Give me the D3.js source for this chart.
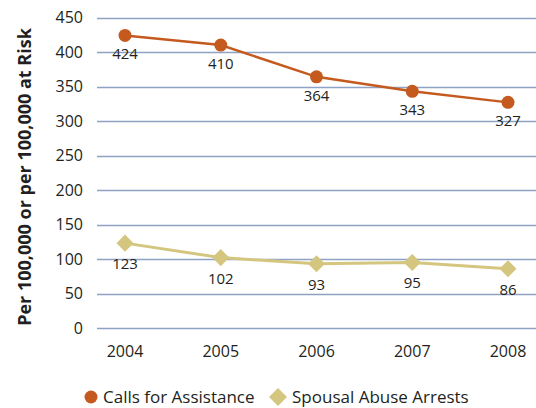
<!DOCTYPE html>
<html>
<head>
<meta charset="utf-8">
<script src="https://cdn.jsdelivr.net/npm/d3@7"></script>
<style>
  body { margin: 0; background: #fff; }
  svg text { font-family: "Open Sans", "Noto Sans", sans-serif; fill: #231f20; }
</style>
</head>
<body>
<div id="chart"></div>
<script>
const width = 536,
  height = 408;

// data
const years = ["2004", "2005", "2006", "2007", "2008"];
const calls = [424, 410, 364, 343, 327];
const arrests = [123, 102, 93, 95, 86];
const yTicks = [0, 50, 100, 150, 200, 250, 300, 350, 400, 450];
const seriesNames = ["Calls for Assistance", "Spousal Abuse Arrests"];

const orange = "#c55a1e",
  tan = "#d4c67e";

const svg = d3
  .select("#chart")
  .append("svg")
  .attr("width", width)
  .attr("height", height);

const x = d3.scalePoint().domain(years).range([125, 508]);
const y = d3.scaleLinear().domain([0, 450]).range([328, 17.5]);

// gridlines
svg
  .selectAll("grid")
  .data(yTicks)
  .join("line")
  .attr("x1", 97)
  .attr("x2", width)
  .attr("y1", (d) => Math.round(y(d)) + 0.5)
  .attr("y2", (d) => Math.round(y(d)) + 0.5)
  .attr("stroke", "#8ea2c4")
  .attr("stroke-width", 1.5);

// y tick labels
svg
  .selectAll("ytick")
  .data(yTicks)
  .join("text")
  .attr("x", 83)
  .attr("y", (d) => y(d) + 5.5)
  .attr("text-anchor", "end")
  .style("font-size", "16px")
  .text((d) => d);

// x tick labels
svg
  .selectAll("xtick")
  .data(years)
  .join("text")
  .attr("x", (d) => x(d))
  .attr("y", 357)
  .attr("text-anchor", "middle")
  .style("font-size", "16px")
  .text((d) => d);

// y axis title
svg
  .append("text")
  .attr("transform", "translate(31,177) rotate(-90)")
  .attr("text-anchor", "middle")
  .style("font-size", "18px")
  .style("font-weight", "bold")
  .text("Per 100,000 or per 100,000 at Risk");

const line = d3
  .line()
  .x((d, i) => x(years[i]))
  .y((d) => y(d));

// calls series
svg
  .append("path")
  .datum(calls)
  .attr("d", line)
  .attr("fill", "none")
  .attr("stroke", orange)
  .attr("stroke-width", 2.5);

svg
  .selectAll("callDots")
  .data(calls)
  .join("circle")
  .attr("cx", (d, i) => x(years[i]))
  .attr("cy", (d) => y(d))
  .attr("r", 6.5)
  .attr("fill", orange);

svg
  .selectAll("callLabels")
  .data(calls)
  .join("text")
  .attr("x", (d, i) => x(years[i]))
  .attr("y", (d) => y(d) + 24)
  .attr("text-anchor", "middle")
  .style("font-size", "15px")
  .text((d) => d);

// arrests series
svg
  .append("path")
  .datum(arrests)
  .attr("d", line)
  .attr("fill", "none")
  .attr("stroke", tan)
  .attr("stroke-width", 3);

const diamond = d3.symbol().type(d3.symbolDiamond2).size(185);

svg
  .selectAll("arrestDots")
  .data(arrests)
  .join("path")
  .attr("d", diamond)
  .attr("transform", (d, i) => `translate(${x(years[i])},${y(d)})`)
  .attr("fill", tan);

svg
  .selectAll("arrestLabels")
  .data(arrests)
  .join("text")
  .attr("x", (d, i) => x(years[i]))
  .attr("y", (d) => y(d) + 26)
  .attr("text-anchor", "middle")
  .style("font-size", "15px")
  .text((d) => d);

// legend
const legendY = 397;
svg
  .append("circle")
  .attr("cx", 91)
  .attr("cy", legendY)
  .attr("r", 6.5)
  .attr("fill", orange);
svg
  .append("text")
  .attr("x", 103)
  .attr("y", legendY + 6)
  .style("font-size", "17px")
  .text(seriesNames[0]);
svg
  .append("path")
  .attr("d", d3.symbol().type(d3.symbolDiamond2).size(206))
  .attr("transform", `translate(278,${legendY})`)
  .attr("fill", tan);
svg
  .append("text")
  .attr("x", 292)
  .attr("y", legendY + 6)
  .style("font-size", "17px")
  .text(seriesNames[1]);
</script>
</body>
</html>
